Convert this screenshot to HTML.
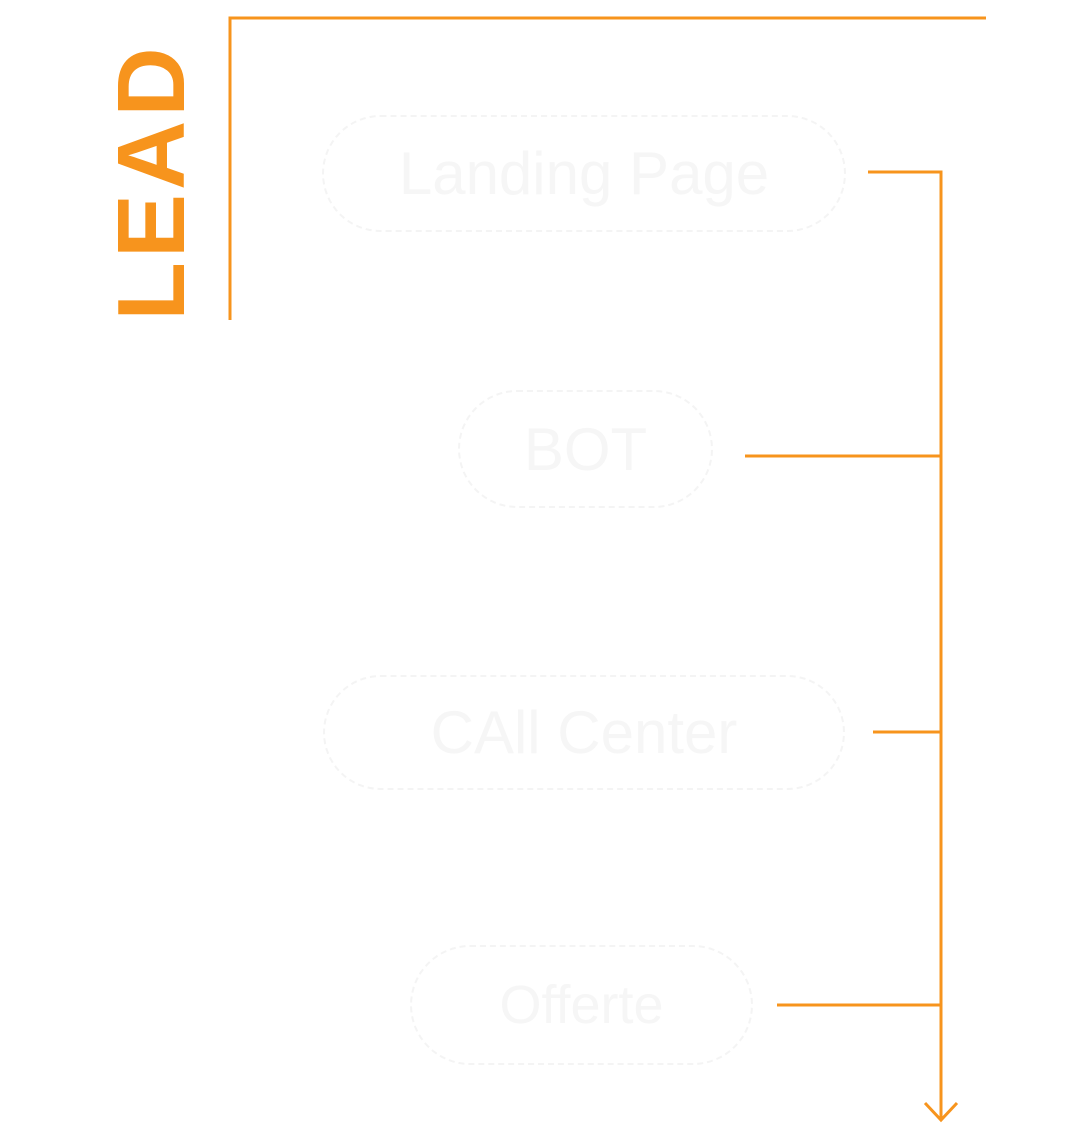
<!DOCTYPE html>
<html><head><style>
html,body{margin:0;padding:0;background:#fff;}
body{width:1080px;height:1137px;position:relative;overflow:hidden;font-family:"Liberation Sans",sans-serif;}
.lead{position:absolute;left:152px;top:182px;transform:translate(-50%,-50%) rotate(-90deg);font-size:96px;font-weight:bold;color:#f7941d;letter-spacing:4px;white-space:nowrap;line-height:1;}
.pill{position:absolute;border:2px dashed #f4f4f4;border-radius:60px;color:#f6f6f6;font-size:60px;display:flex;align-items:center;justify-content:center;box-sizing:border-box;}
</style></head><body>
<div class="lead">LEAD</div>
<div class="pill" style="left:322px;top:115px;width:524px;height:117px;">Landing Page</div>
<div class="pill" style="left:458px;top:390px;width:255px;height:118px;">BOT</div>
<div class="pill" style="left:323px;top:675px;width:522px;height:115px;">CAll Center</div>
<div class="pill" style="left:410px;top:945px;width:343px;height:120px;font-size:54px;">Offerte</div>
<svg width="1080" height="1137" style="position:absolute;left:0;top:0" fill="none" stroke="#f7941d" stroke-width="3">
<polyline points="230,320 230,18 986,18"/>
<polyline points="868,172 941,172 941,1120"/>
<line x1="745" y1="456" x2="941" y2="456"/>
<line x1="873" y1="732" x2="941" y2="732"/>
<line x1="777" y1="1005" x2="941" y2="1005"/>
<polyline points="925,1103 941,1120 957,1103"/>
</svg>
</body></html>
